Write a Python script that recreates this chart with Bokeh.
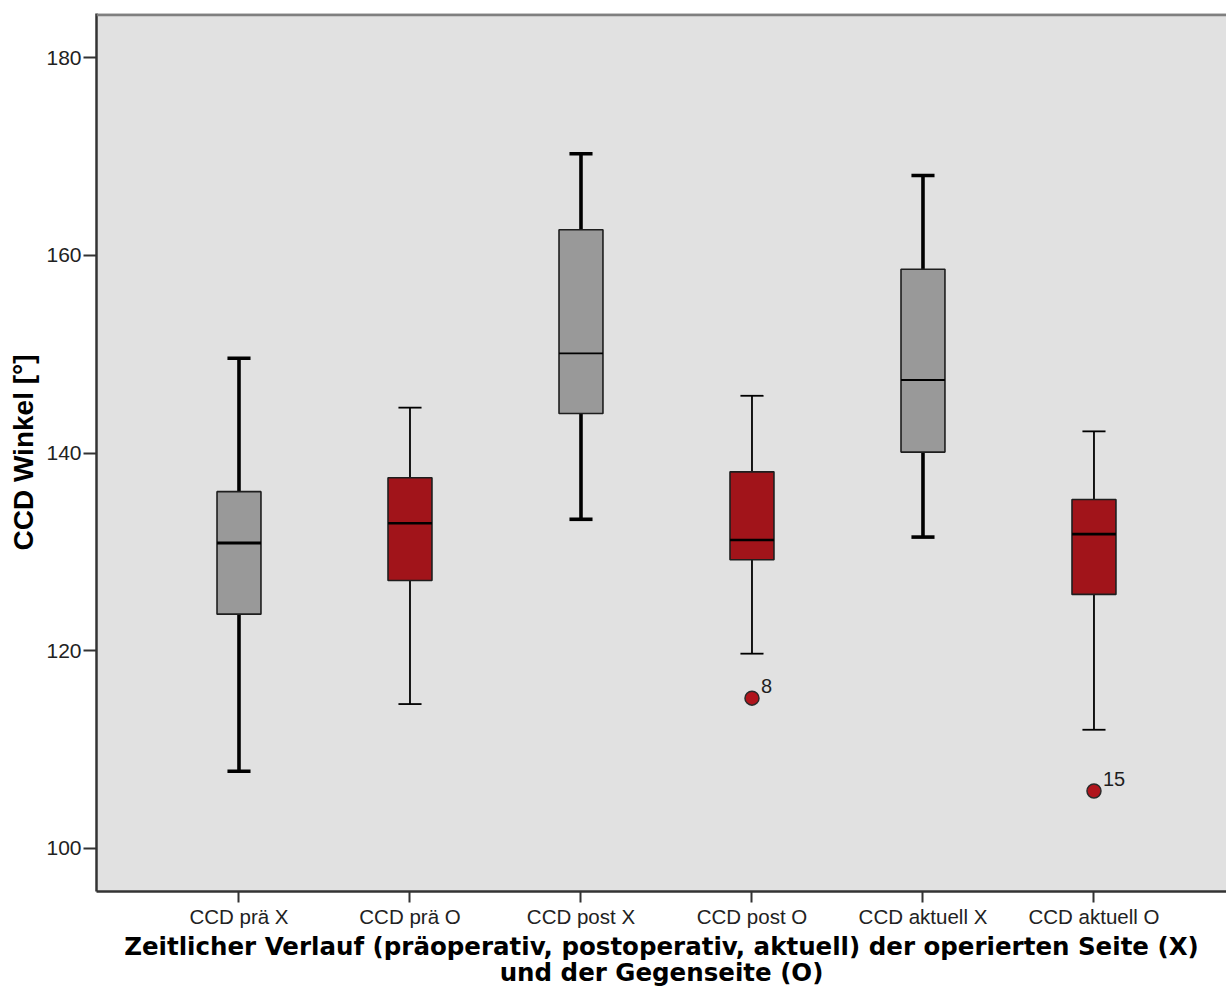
import numpy as np
from bokeh.plotting import figure
from bokeh.models import Range1d, FixedTicker, Span, ColumnDataSource
from bokeh.core.properties import value
from bokeh.embed import file_html
from bokeh.resources import INLINE

# Five-number summaries of the CCD angle (degrees) per measurement
categories = ["CCD prä X", "CCD prä O", "CCD post X", "CCD post O",
              "CCD aktuell X", "CCD aktuell O"]
whisker_low = [107.8, 114.6, 133.3, 119.7, 131.5, 112.0]
quartile_1 = [123.7, 127.1, 144.0, 129.2, 140.1, 125.7]
medians = [130.9, 132.9, 150.1, 131.2, 147.4, 131.8]
quartile_3 = [136.1, 137.5, 162.6, 138.1, 158.6, 135.3]
whisker_high = [149.6, 144.6, 170.3, 145.8, 168.1, 142.2]

# Outliers (case numbers as labels)
outlier_category = ["CCD post O", "CCD aktuell O"]
outlier_values = [115.2, 105.8]
outlier_labels = ["8", "15"]

y_ticks = [100, 120, 140, 160, 180]

x_title = ("Zeitlicher Verlauf (präoperativ, postoperativ, aktuell) "
           "der operierten Seite (X)\nund der Gegenseite (O)")
y_title = "CCD Winkel [°]"

# Styling: operated side (X) grey, contralateral side (O) dark red
GREY = "#999999"
RED = "#a1141a"
box_colors = [GREY, RED, GREY, RED, GREY, RED]
whisker_widths = [3.6, 1.8, 3.6, 1.8, 3.6, 1.8]
median_widths = [3.2, 2.6, 1.8, 2.4, 1.8, 2.6]

BOX_W = 0.257
CAP_W = 0.135

xs = np.arange(1, len(categories) + 1, dtype=float)
lo = np.array(whisker_low)
q1 = np.array(quartile_1)
md = np.array(medians)
q3 = np.array(quartile_3)
hi = np.array(whisker_high)

src = ColumnDataSource(dict(
    x=xs, lo=lo, q1=q1, md=md, q3=q3, hi=hi,
    x_box_l=xs - BOX_W / 2, x_box_r=xs + BOX_W / 2,
    x_cap_l=xs - CAP_W / 2, x_cap_r=xs + CAP_W / 2,
    color=box_colors, ww=whisker_widths, mw=median_widths,
))

FRAME_H = 878.0
x_start, x_end = 0.1667, 6.775
y_start, y_end = 95.63, 184.49
px_per_y = FRAME_H / (y_end - y_start)

p = figure(width=1226, height=990, title=None,
           output_backend="svg", toolbar_location=None,
           x_range=Range1d(x_start, x_end), y_range=Range1d(y_start, y_end),
           min_border_left=96, min_border_right=0,
           min_border_top=13, min_border_bottom=99)

p.background_fill_color = "#e1e1e1"
p.border_fill_color = "white"
p.outline_line_color = None
p.xgrid.visible = False
p.ygrid.visible = False

# whiskers
p.segment(x0="x", y0="q3", x1="x", y1="hi", source=src,
          line_color="black", line_width="ww")
p.segment(x0="x", y0="lo", x1="x", y1="q1", source=src,
          line_color="black", line_width="ww")
# caps
p.segment(x0="x_cap_l", y0="hi", x1="x_cap_r", y1="hi", source=src,
          line_color="black", line_width="ww")
p.segment(x0="x_cap_l", y0="lo", x1="x_cap_r", y1="lo", source=src,
          line_color="black", line_width="ww")
# boxes
p.vbar(x="x", width=BOX_W, bottom="q1", top="q3", source=src,
       fill_color="color", line_color="#1e1e1e", line_width=1.6)
# medians
p.segment(x0="x_box_l", y0="md", x1="x_box_r", y1="md", source=src,
          line_color="black", line_width="mw")

# outliers
ox = [categories.index(c) + 1 for c in outlier_category]
osrc = ColumnDataSource(dict(x=ox, y=outlier_values, t=outlier_labels))
p.scatter(x="x", y="y", source=osrc, size=14, marker="circle",
          fill_color="#b0141c", line_color="#2b2b2b", line_width=1.5)
p.text(x="x", y="y", text="t", source=osrc, x_offset=9, y_offset=-12,
       text_baseline="alphabetic", text_align="left",
       text_font=value("Liberation Sans"), text_font_size="20px",
       text_color="#1e1e1e")

# top frame border
top_edge = y_end - 1.2 / px_per_y
p.add_layout(Span(location=top_edge, dimension="width",
                  line_color="#7f7f7f", line_width=3))

# axes
p.yaxis.ticker = FixedTicker(ticks=y_ticks)
p.yaxis.minor_tick_line_color = None
p.yaxis.major_tick_out = 13
p.yaxis.major_tick_in = 0
p.yaxis.major_tick_line_width = 2
p.yaxis.major_tick_line_color = "#333333"
p.yaxis.axis_line_color = "#333333"
p.yaxis.axis_line_width = 2.5
p.yaxis.major_label_standoff = 2
p.yaxis.major_label_text_font = "Liberation Sans"
p.yaxis.major_label_text_font_size = "21px"
p.yaxis.major_label_text_color = "#222222"
p.yaxis.axis_label = y_title
p.yaxis.axis_label_text_font = "Liberation Sans"
p.yaxis.axis_label_text_font_style = "bold"
p.yaxis.axis_label_text_font_size = "28px"
p.yaxis.axis_label_text_color = "black"
p.yaxis.axis_label_standoff = 4

p.xaxis.ticker = FixedTicker(ticks=list(xs))
p.xaxis.major_label_overrides = {i + 1: c for i, c in enumerate(categories)}
p.xaxis.minor_tick_line_color = None
p.xaxis.major_tick_out = 11
p.xaxis.major_tick_in = 0
p.xaxis.major_tick_line_width = 2
p.xaxis.major_tick_line_color = "#333333"
p.xaxis.axis_line_color = "#333333"
p.xaxis.axis_line_width = 2.5
p.xaxis.major_label_standoff = 2
p.xaxis.major_label_text_font = "Liberation Sans"
p.xaxis.major_label_text_font_size = "20.5px"
p.xaxis.major_label_text_color = "#222222"
p.xaxis.axis_label = x_title
p.xaxis.axis_label_text_font = "DejaVu Sans"
p.xaxis.axis_label_text_font_style = "bold"
p.xaxis.axis_label_text_font_size = "24.5px"
p.xaxis.axis_label_text_line_height = 0.9
p.xaxis.axis_label_text_color = "black"
p.xaxis.axis_label_text_align = "center"
p.xaxis.axis_label_standoff = 1

with open("out.html", "w") as f:
    f.write(file_html(p, INLINE))
